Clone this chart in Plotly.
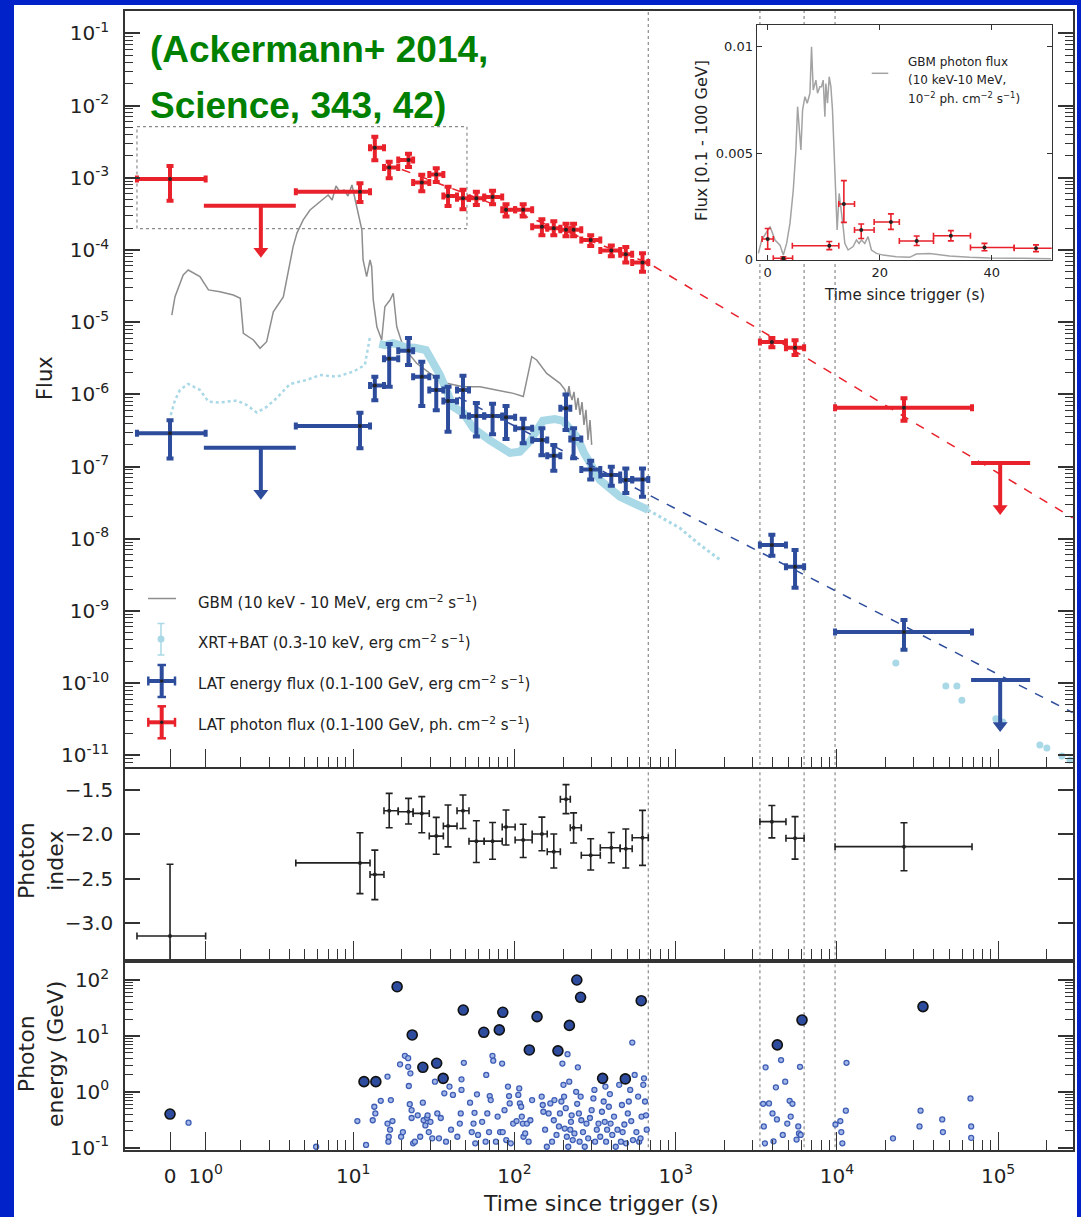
import numpy as np
import plotly.graph_objects as go

W, H = 1081, 1217
RED = '#E8212B'
BLUE = '#2D4C9C'
LBLUE = '#A9D8E6'
GREY = '#8E8E8E'
DARK = '#222222'
AX = '#333333'
BORDER = '#0022C8'
FONT = 'DejaVu Sans'

# ------------------------------------------------------------------ data
# LAT time bins (s): centre, low edge, high edge
lat_t = [0, 11.0, 13.6, 16.7, 22.0, 26.6, 32.7, 38.7, 47.9, 58.0, 73.1, 88.6, 113.2, 147.9,
         175.3, 208.7, 232.6, 297, 398.6, 490.4, 622.3, 3950, 5500, 26070]
lat_lo = [-1.0, 4.4, 12.7, 15.5, 19.0, 23.5, 29.6, 36.2, 44.0, 52.2, 64.9, 83.9, 100.9, 128.7,
          159.6, 192.5, 221.9, 259.6, 340.6, 452.6, 537, 3330, 4830, 9740]
lat_hi = [1.0, 12.7, 15.5, 19.0, 23.5, 29.6, 36.2, 44.0, 52.2, 64.9, 83.9, 100.9, 128.7, 159.6,
          192.5, 221.9, 259.6, 340.6, 452.6, 537, 676, 4830, 6260, 68900]

# LAT photon flux (ph cm-2 s-1)
ph_flux = [9.6e-4, 6.4e-4, 2.6e-3, 1.38e-3, 1.76e-3, 8.6e-4, 1.11e-3, 5.6e-4, 5.2e-4, 5.2e-4,
           5.4e-4, 3.6e-4, 3.6e-4, 2.1e-4, 2.0e-4, 1.9e-4, 1.9e-4, 1.37e-4, 9.8e-5, 8.7e-5,
           6.7e-5, 5.3e-6, 4.4e-6, 6.5e-7]
ph_hi = [1.45e-3, 8.4e-4, 3.7e-3, 1.66e-3, 2.14e-3, 1.1e-3, 1.35e-3, 7.5e-4, 6.8e-4, 6.4e-4,
         6.6e-4, 4.3e-4, 4.3e-4, 2.65e-4, 2.5e-4, 2.3e-4, 2.3e-4, 1.6e-4, 1.15e-4, 1.1e-4,
         9.0e-5, 6.0e-6, 5.6e-6, 8.8e-7]
ph_lo = [4.8e-4, 4.6e-4, 1.74e-3, 9.8e-4, 1.41e-3, 6.5e-4, 8.7e-4, 4.05e-4, 3.65e-4, 4.2e-4,
         4.3e-4, 2.9e-4, 2.9e-4, 1.6e-4, 1.6e-4, 1.55e-4, 1.55e-4, 1.13e-4, 8.2e-5, 6.7e-5,
         5.0e-5, 4.5e-6, 3.5e-6, 4.3e-7]

# LAT energy flux (erg cm-2 s-1)
en_flux = [2.88e-7, 3.64e-7, 1.32e-6, 3.1e-6, 4.0e-6, 1.75e-6, 1.15e-6, 8.1e-7, 1.15e-6, 5.0e-7,
           5.0e-7, 4.8e-7, 3.4e-7, 2.33e-7, 1.41e-7, 6.4e-7, 2.4e-7, 9.1e-8, 7.6e-8, 6.5e-8,
           6.6e-8, 8.2e-9, 4.1e-9, 5.1e-10]
en_hi = [4.37e-7, 5.56e-7, 1.75e-6, 4.98e-6, 6.0e-6, 2.83e-6, 1.75e-6, 1.27e-6, 1.8e-6, 7.6e-7,
         7.4e-7, 6.9e-7, 4.6e-7, 3.4e-7, 1.98e-7, 9.9e-7, 3.4e-7, 1.2e-7, 9.9e-8, 9.4e-8,
         9.4e-8, 1.13e-8, 7.0e-9, 7.5e-10]
en_lo = [1.29e-7, 1.79e-7, 8.3e-7, 1.27e-6, 2.55e-6, 6.9e-7, 6.0e-7, 3.03e-7, 4.9e-7, 2.6e-7,
         2.8e-7, 2.4e-7, 2.1e-7, 1.43e-7, 8.7e-8, 3.2e-7, 1.3e-7, 6.6e-8, 5.4e-8, 4.3e-8,
         3.8e-8, 5.8e-9, 2.1e-9, 2.9e-10]

# upper limits: bin low, bin high, arrow time, photon flux UL, energy flux UL
ul_lo = [0.95, 68000]
ul_hi = [4.4, 158000]
ul_t = [2.67, 103000]
ul_ph = [4.1e-4, 1.12e-7]
ul_en = [1.82e-7, 1.1e-10]

# photon index
idx = [-3.147, -2.322, -2.454, -1.734, -1.745, -1.764, -2.020, -1.907, -1.734, -2.077, -2.077,
       -1.918, -2.064, -1.996, -2.196, -1.605, -1.925, -2.236, -2.151, -2.162, -2.038, -1.857,
       -2.045, -2.139]
idx_hi = [-2.337, -1.982, -2.178, -1.538, -1.594, -1.575, -1.809, -1.669, -1.557, -1.847, -1.866,
          -1.726, -1.886, -1.806, -1.997, -1.439, -1.758, -2.05, -1.98, -1.94, -1.73, -1.675,
          -1.80, -1.87]
idx_lo = [-3.95, -2.669, -2.736, -1.926, -1.884, -1.982, -2.224, -2.141, -1.934, -2.318, -2.281,
          -2.12, -2.262, -2.186, -2.38, -1.766, -2.097, -2.402, -2.32, -2.38, -2.35, -2.04,
          -2.28, -2.41]

# power-law decay lines (dashed)
fit_ph_t = [20, 676, 2.9e5]
fit_ph_F = [1.3e-3, 6.6e-5, 1.95e-8]
fit_en_t = [45, 2.9e5]
fit_en_F = [9.1e-7, 3.9e-11]

# GBM energy flux
gbm_t = [0.05, 0.14, 0.37, 0.51, 0.84, 1.08, 1.41, 1.79, 1.99, 2.08, 2.40, 2.64, 2.90, 3.19, 3.68,
         4.23, 4.47, 4.88, 5.39, 5.87, 6.40, 6.98, 7.39, 7.81, 8.27, 8.76, 9.27, 9.81, 10.5, 11.0,
         11.3, 11.5, 12.1, 12.7, 13.0, 13.3, 14.0, 15.0, 15.7, 16.9, 17.7, 18.6, 20.4, 24.7, 29.9,
         38.0, 48.1, 61.1, 77.5, 98.3, 113.4, 119.0, 127.9, 137.3, 158.4, 191.6, 205.7, 211.7,
         217.8, 221, 227.4, 233.9, 240.7, 247.7, 254.8, 262.3, 269.8, 277.6, 285.6, 294.0, 301.2]
gbm_F = [1.25e-5, 2.25e-5, 4.49e-5, 5.27e-5, 4.26e-5, 2.79e-5, 2.64e-5, 2.37e-5, 2.14e-5, 7.0e-6,
         5.65e-6, 4.34e-6, 5.36e-6, 1.39e-5, 2.23e-5, 1.10e-4, 1.71e-4, 2.59e-4, 3.57e-4, 4.19e-4,
         4.91e-4, 5.76e-4, 4.91e-4, 7.67e-4, 6.34e-4, 6.76e-4, 5.58e-4, 7.92e-4, 3.96e-4, 2.59e-4,
         1.89e-4, 7.25e-5, 4.26e-5, 7.25e-5, 5.85e-5, 2.02e-5, 8.63e-6, 5.65e-6, 1.63e-5, 2.02e-5,
         2.51e-5, 8.63e-6, 4.56e-6, 2.69e-6, 1.95e-6, 1.42e-6, 1.27e-6, 1.27e-6, 1.15e-6, 1.03e-6,
         9.3e-7, 1.58e-6, 3.32e-6, 2.99e-6, 1.95e-6, 1.42e-6, 1.15e-6, 8.9e-7, 1.30e-6, 1.03e-6,
         8.3e-7, 1.08e-6, 6.1e-7, 8.9e-7, 5.2e-7, 7.8e-7, 3.76e-7, 6.1e-7, 2.33e-7, 4.41e-7, 1.99e-7]

# BAT (early) and XRT
bat_t = [0.02, 0.14, 0.28, 0.51, 0.84, 1.08, 1.41, 1.89, 2.18, 2.52, 2.90, 3.35, 4.05, 5.14, 6.21,
         7.89, 10.0, 11.8, 12.7]
bat_F = [5.16e-7, 8.3e-7, 1.15e-6, 1.39e-6, 1.15e-6, 7.9e-7, 7.7e-7, 8.2e-7, 7.1e-7, 5.6e-7,
         6.7e-7, 8.9e-7, 1.39e-6, 1.58e-6, 1.85e-6, 1.75e-6, 2.06e-6, 2.55e-6, 6.3e-6]
xrt_t = [14.5, 15.7, 17.7, 20.9, 24.1, 28.2, 34.5, 41.7, 48.1, 55.5, 70.5, 93.8, 108, 125, 150,
         178, 200, 244, 270, 311, 339, 452, 674, 1063, 1416, 1885]
xrt_F = [5.0e-6, 4.8e-6, 5.1e-6, 4.5e-6, 4.4e-6, 4.1e-6, 1.85e-6, 6.7e-7, 5.5e-7, 3.4e-7, 2.3e-7,
         1.54e-7, 1.6e-7, 2.25e-7, 4.3e-7, 4.55e-7, 4.3e-7, 2.56e-7, 1.54e-7, 8.9e-8, 6.5e-8,
         3.8e-8, 2.5e-8, 1.4e-8, 8.2e-9, 5.1e-9]
xrt_late_t = [23200, 47400, 55500, 59600, 96800, 107000, 181600, 200700, 248800, 279000]
xrt_late_F = [1.9e-10, 9.1e-11, 9.1e-11, 5.8e-11, 3.2e-11, 2.9e-11, 1.39e-11, 1.26e-11,
              9.8e-12, 8.6e-12]

# vertical dotted lines (s)
vline_t = [676, 3330, 6260, 9740]
# dotted box (s, flux)
box_t = [-1.0, 50.7]
box_F = [1.97e-4, 5.1e-3]

# photon energies: high-probability (large) events (t s, E GeV)
big_t = [0, 11.65, 13.8, 18.7, 23.2, 27.0, 32.9, 36.1, 48.1, 64.5, 80.5, 84.6, 123.6, 138, 186,
         219, 243.6, 257, 352, 487, 611, 4270, 6075, 34200]
big_E = [0.40, 1.52, 1.52, 75.8, 10.4, 2.74, 3.24, 1.74, 29.0, 11.6, 12.8, 26.4, 5.6, 22.1, 5.4,
         15.4, 100, 49, 1.74, 1.70, 42.6, 6.9, 19.2, 33.4]
# other events (t s, E GeV)
small_early = [(0.52, 0.28), (5.88, 0.104), (10.6, 0.30), (12.0, 0.112), (13.2, 0.31), (13.5, 0.54),
               (13.7, 0.41), (14.8, 0.69), (16.3, 1.87), (16.3, 0.27), (16.5, 0.128), (16.6, 0.157),
               (16.9, 0.21), (17.1, 0.71), (17.5, 0.30), (19.5, 3.1), (19.8, 0.157), (20.3, 0.19),
               (20.9, 4.4), (21.9, 4.0), (21.9, 2.8), (22.1, 1.27), (22.4, 0.60), (22.6, 2.14),
               (23.0, 0.47), (23.0, 0.34), (23.5, 0.12), (24.1, 0.128), (25.1, 0.38), (26.0, 0.157),
               (27.0, 0.64), (27.3, 0.31), (28.0, 0.25), (28.7, 0.34), (28.9, 0.38), (29.4, 0.19),
               (30.1, 0.29), (30.9, 0.147), (32.1, 1.52), (33.2, 0.41), (34.0, 0.147), (34.9, 0.34),
               (36.7, 0.94), (37.6, 0.128), (39.5, 1.24), (40.4, 0.21), (41.5, 0.88), (44.2, 0.157),
               (45.8, 0.27), (46.4, 0.41), (46.9, 1.67), (46.9, 1.08), (48.5, 3.3), (53.0, 0.64),
               (54.3, 0.19), (55.7, 0.27), (56.5, 0.42), (57.1, 0.12), (58.5, 0.90), (59.4, 0.169),
               (63.0, 0.29), (66.2, 0.128), (66.8, 2.0), (67.8, 0.41), (69.5, 0.19), (70.2, 0.84),
               (71.2, 0.71), (73.0, 4.4), (73.8, 3.6), (76.7, 0.128), (78.6, 0.36), (81.4, 0.19),
               (83.8, 3.2), (84.5, 0.19), (86.7, 0.47), (88.9, 0.137), (91.1, 1.24), (92.5, 0.84),
               (93.4, 0.62), (94.8, 0.12), (98.1, 0.27), (103, 0.30), (105.6, 0.88), (107, 1.15),
               (108, 0.62), (110, 0.54), (111, 0.36), (112.6, 0.27), (113.7, 0.157), (116.5, 0.18),
               (119.4, 0.27), (122.4, 0.128), (125.4, 0.31), (128.6, 0.71)]
small_mid = [(147.5, 0.82), (149.7, 0.58), (151, 0.44), (154.8, 0.21), (158.7, 0.104), (162.8, 0.41),
             (166.8, 0.62), (171, 0.128), (175.3, 0.31), (176.9, 0.71), (182.2, 0.169), (188.7, 0.24),
             (191.4, 0.41), (195.3, 0.67), (198.2, 3.2), (201.2, 1.33), (203, 0.82), (205, 0.22),
             (208, 0.51), (211.2, 0.157), (213.3, 4.7), (215.4, 0.104), (218.6, 1.52), (221.9, 0.21),
             (224, 0.29), (226.2, 0.38), (229.7, 0.137), (235.3, 0.18), (241.2, 1.0), (244.8, 0.61),
             (247.2, 2.74), (250.8, 0.41), (253.4, 0.128), (257.2, 0.82), (259.7, 0.31), (266, 0.19),
             (272.8, 0.104), (279.6, 0.27), (286.5, 0.147), (293.7, 0.34), (301, 0.47), (308.5, 0.76),
             (313.1, 1.08), (316.2, 0.128), (324, 0.21), (332, 0.27), (340.3, 0.157), (348.8, 0.44),
             (357.4, 0.67), (362.8, 0.29), (366.4, 1.24), (370, 0.128), (375.4, 0.21), (384.8, 0.54),
             (390.5, 0.91), (394.4, 0.27), (404.2, 0.169), (414.4, 0.36), (424.7, 0.104), (435.3, 0.21),
             (446.1, 1.33), (457.2, 0.128), (463.9, 0.58), (468.5, 0.19), (480.2, 0.26), (492.1, 0.12),
             (504.5, 0.41), (511.9, 0.67), (522.1, 1.08), (529.8, 0.30), (537.8, 7.6), (543.1, 0.137),
             (556.5, 2.0), (570.4, 0.19), (584.7, 0.82), (593.4, 0.128), (605.2, 0.147), (614, 0.36),
             (629.4, 1.33), (635.7, 1.74), (645.1, 0.67), (654.7, 0.38), (661.2, 0.21)]
small_late = [(3487, 0.61), (3522, 0.24), (3574, 0.12), (3610, 2.74), (3792, 0.62), (3985, 0.41),
              (4044, 0.13), (4184, 1.2), (4246, 0.32), (4504, 3.7), (4617, 0.169), (4779, 1.52),
              (4922, 0.27), (5093, 0.69), (5169, 0.36), (5298, 0.61), (5620, 0.14), (5760, 0.24),
              (5817, 0.18), (5903, 2.8), (5962, 0.169), (9797, 0.26), (10500, 0.30), (10650, 0.19),
              (10810, 0.12), (11360, 0.46), (11470, 3.3), (22280, 0.147), (32540, 0.24),
              (33030, 0.46), (45020, 0.32), (45470, 0.19), (67400, 0.76), (68070, 0.24), (68070, 0.15)]

# inset: GBM photon flux (10^-2 ph cm-2 s-1) vs time (s)
ins_t = [-1.66, -1.07, 0.42, 1.31, 2.20, 2.79, 3.38, 3.98, 4.57, 5.04, 5.34, 5.64, 5.93, 6.23, 6.65,
         7.06, 7.54, 7.83, 8.13, 8.61, 8.90, 9.32, 9.61, 9.91, 10.21, 10.39, 10.68, 10.98, 11.28,
         11.57, 11.87, 12.17, 12.40, 12.76, 13.18, 13.47, 13.77, 14.36, 15.25, 15.85, 16.32, 16.74,
         17.33, 17.92, 18.52, 19.41, 20.59, 22.97, 25.34, 26.53, 28.9, 32.46, 36.02, 39.58, 45.52,
         50.56]
ins_v = [0.00028, 0.00091, 0.00154, 0.00091, 0.00067, 0.0002, 0.00075, 0.00169, 0.00326, 0.00514,
         0.00718, 0.00624, 0.00514, 0.00702, 0.00765, 0.00734, 0.00781, 0.0100, 0.00796, 0.00843,
         0.00781, 0.00812, 0.00812, 0.00843, 0.00671, 0.00827, 0.00734, 0.00859, 0.00812, 0.00702,
         0.00467, 0.00232, 0.00138, 0.0031, 0.00232, 0.00154, 0.00075, 0.00044, 0.0006, 0.00091,
         0.00075, 0.00091, 0.00075, 0.00107, 0.00044, 0.00028, 0.0002, 0.000125, 0.000094, 0.00025,
         0.00028, 0.000157, 0.000094, 0.000063, 0.000047, 0.000031]
ins_n = 9          # number of LAT bins shown in the inset
ins_extra = dict(t=2.8, lo=1.0, hi=4.45, v=5e-5, vhi=1.2e-4, vlo=0.0)

# ------------------------------------------------------------------ helpers
def tu(t):
    """time (s) -> axis coordinate (log10 beyond 2 s, stretched linear near 0)."""
    t = np.asarray(t, dtype=float)
    lin = np.interp(t, [-1.0, 0.0, 1.0, 2.0], [-0.342, -0.137, 0.084, np.log10(2.0)])
    lg = np.log10(np.clip(t, 2.0, None))
    return np.where(t >= 2.0, lg, lin)


def X(px):
    return px / W


def Y(py):
    return 1 - py / H


U_RANGE = [1 + (125 - 353.3) / 161.2, 1 + (1073 - 353.3) / 161.2]
XDOM = [X(125), X(1073)]
TOP_DOM = [Y(766.7), Y(11)]
MID_DOM = [Y(959), Y(769.3)]
BOT_DOM = [Y(1150), Y(962.7)]
TOP_RANGE = [-11.158, -0.691]
MID_RANGE = [-3.406, -1.2666]
BOT_RANGE = [-1.041, 2.309]
INSET_XDOM = [X(756.7), X(1051.7)]
INSET_YDOM = [Y(260), Y(25)]
U_INSET_L = 1 + (756.7 - 353.3) / 161.2

fig = go.Figure()
A = np.asarray

def sc(**kw):
    kw.setdefault('showlegend', False)
    kw.setdefault('hoverinfo', 'skip')
    fig.add_trace(go.Scatter(**kw))

# ------------------------------------------------------------------ vertical dotted lines
def vlines(xa, ya, lo, hi, gap=None):
    xs, ys = [], []
    for vt in vline_t:
        u = float(tu(vt))
        if gap is not None and u > U_INSET_L:
            segs = [(lo, gap[0]), (gap[1], hi)]
        else:
            segs = [(lo, hi)]
        for a, b in segs:
            xs += [u, u, None]
            ys += [a, b, None]
    sc(x=xs, y=ys, xaxis=xa, yaxis=ya, mode='lines',
       line=dict(color='#8a8a8a', width=1.2, dash='dot'))

vlines('x', 'y', 10 ** -11.3, 10 ** -0.6, gap=(10 ** -4.17, 10 ** -0.885))
vlines('x2', 'y2', -3.5, -1.2)
vlines('x3', 'y3', 10 ** -1.1, 10 ** 2.4)

# dotted box
bx = tu([box_t[0], box_t[1], box_t[1], box_t[0], box_t[0]])
by = [box_F[1], box_F[1], box_F[0], box_F[0], box_F[1]]
sc(x=bx, y=by, xaxis='x', yaxis='y', mode='lines', line=dict(color='#8a8a8a', width=1.2, dash='dot'))

# GBM
sc(x=tu(gbm_t), y=gbm_F, xaxis='x', yaxis='y', mode='lines', line=dict(color=GREY, width=1.5))

# BAT + XRT
sc(x=tu(bat_t), y=bat_F, xaxis='x', yaxis='y', mode='lines',
   line=dict(color=LBLUE, width=2.5, dash='dot'))
xt = A(xrt_t); xf = A(xrt_F)
m1 = xt <= 674
sc(x=tu(xt[m1]), y=xf[m1], xaxis='x', yaxis='y', mode='lines', line=dict(color=LBLUE, width=8))
m2 = xt >= 674
sc(x=tu(xt[m2]), y=xf[m2], xaxis='x', yaxis='y', mode='lines',
   line=dict(color=LBLUE, width=3, dash='dot'))
sc(x=tu(xrt_late_t), y=xrt_late_F, xaxis='x', yaxis='y', mode='markers',
   marker=dict(color=LBLUE, size=7))

# dashed decay lines
sc(x=tu(fit_ph_t), y=fit_ph_F, xaxis='x', yaxis='y', mode='lines', line=dict(color=RED, width=1.5, dash='dash'))
sc(x=tu(fit_en_t), y=fit_en_F, xaxis='x', yaxis='y', mode='lines', line=dict(color=BLUE, width=1.5, dash='dash'))

ut = tu(lat_t); ulo = tu(lat_lo); uhi = tu(lat_hi)

def lat_points(F, Fhi, Flo, color):
    F = A(F); Fhi = A(Fhi); Flo = A(Flo)
    sc(x=ut, y=F, xaxis='x', yaxis='y', mode='markers',
       marker=dict(size=4, color=DARK),
       error_x=dict(type='data', symmetric=False, array=uhi - ut, arrayminus=ut - ulo,
                    color=color, thickness=4, width=3.5),
       error_y=dict(type='data', symmetric=False, array=Fhi - F, arrayminus=F - Flo,
                    color=color, thickness=4, width=3.5))

def upper_limits(vals, color):
    xs, ys, tx, ty = [], [], [], []
    for lo, hi, ta, v in zip(ul_lo, ul_hi, ul_t, vals):
        xs += [float(tu(lo)), float(tu(hi)), None]
        ys += [v, v, None]
        ua = float(tu(ta))
        xs += [ua, ua, None]
        ys += [v, v * 10 ** -0.6, None]
        tx.append(ua); ty.append(v * 10 ** -0.63)
    sc(x=xs, y=ys, xaxis='x', yaxis='y', mode='lines', line=dict(color=color, width=4))
    sc(x=tx, y=ty, xaxis='x', yaxis='y', mode='markers',
       marker=dict(symbol='triangle-down', size=13, color=color))

lat_points(en_flux, en_hi, en_lo, BLUE)
upper_limits(ul_en, BLUE)
lat_points(ph_flux, ph_hi, ph_lo, RED)
upper_limits(ul_ph, RED)

# ------------------------------------------------------------------ photon index
ix = A(idx)
sc(x=ut, y=ix, xaxis='x2', yaxis='y2', mode='markers', marker=dict(size=4, color=DARK),
   error_x=dict(type='data', symmetric=False, array=uhi - ut, arrayminus=ut - ulo,
                color=DARK, thickness=1.6, width=3.5),
   error_y=dict(type='data', symmetric=False, array=A(idx_hi) - ix, arrayminus=ix - A(idx_lo),
                color=DARK, thickness=1.6, width=3.5))

# ------------------------------------------------------------------ photon energies
small = small_early + small_mid + small_late
sc(x=tu([p[0] for p in small]), y=[p[1] for p in small], xaxis='x3', yaxis='y3', mode='markers',
   marker=dict(size=5, color='#A3B6E8', line=dict(color='#3D5DB5', width=1.3)))
sc(x=tu(big_t), y=big_E, xaxis='x3', yaxis='y3', mode='markers',
   marker=dict(size=10, color='#2E4C9E', line=dict(color='#111111', width=1.6)))

# ------------------------------------------------------------------ inset
sc(x=ins_t, y=ins_v, xaxis='x4', yaxis='y4', mode='lines', line=dict(color='#A3A3A3', width=1.5))
it = A(lat_t[:ins_n]); iv = A(ph_flux[:ins_n])
sc(x=it, y=iv, xaxis='x4', yaxis='y4', mode='markers', marker=dict(size=4, color=DARK),
   error_x=dict(type='data', symmetric=False, array=A(lat_hi[:ins_n]) - it,
                arrayminus=it - A(lat_lo[:ins_n]), color=RED, thickness=1.6, width=3),
   error_y=dict(type='data', symmetric=False, array=A(ph_hi[:ins_n]) - iv,
                arrayminus=iv - A(ph_lo[:ins_n]), color=RED, thickness=1.6, width=3))
e = ins_extra
sc(x=[e['t']], y=[e['v']], xaxis='x4', yaxis='y4', mode='markers', marker=dict(size=4, color=DARK),
   error_x=dict(type='data', symmetric=False, array=[e['hi'] - e['t']], arrayminus=[e['t'] - e['lo']],
                color=RED, thickness=1.6, width=3),
   error_y=dict(type='data', symmetric=False, array=[e['vhi'] - e['v']], arrayminus=[e['v'] - e['vlo']],
                color=RED, thickness=1.6, width=3))

# ------------------------------------------------------------------ axes
x_major = [float(tu(0)), float(tu(1)), 1, 2, 3, 4, 5]
x_text = ['0', '10<sup>0</sup>', '10<sup>1</sup>', '10<sup>2</sup>', '10<sup>3</sup>',
          '10<sup>4</sup>', '10<sup>5</sup>']
x_minor = [np.log10(k * 10.0 ** n) for n in range(0, 6) for k in range(2, 10)
           if np.log10(k * 10.0 ** n) < U_RANGE[1]]

tickfont = dict(family=FONT, size=20, color=DARK)

def xcfg(anchor, labels):
    return dict(domain=XDOM, range=U_RANGE, anchor=anchor, showgrid=False, zeroline=False,
                automargin=False,
                showline=True, linecolor=AX, linewidth=1.5, mirror=True,
                ticks='inside', ticklen=18, tickwidth=1.3, tickcolor=AX,
                tickmode='array', tickvals=x_major, ticktext=x_text,
                showticklabels=labels, tickfont=tickfont, ticklabelstandoff=7,
                minor=dict(tickmode='array', tickvals=x_minor, ticks='inside', ticklen=10,
                           tickwidth=1.2, tickcolor=AX))

def logycfg(domain, rng, anchor, decades):
    vals = [10.0 ** d for d in decades]
    txt = ['10<sup>%d</sup>' % d for d in decades]
    minor = [k * 10.0 ** d for d in range(min(decades) - 1, max(decades) + 1) for k in range(2, 10)
             if rng[0] < np.log10(k * 10.0 ** d) < rng[1]]
    return dict(domain=domain, type='log', range=rng, anchor=anchor, showgrid=False, zeroline=False,
                automargin=False,
                showline=True, linecolor=AX, linewidth=1.5, mirror='ticks',
                ticks='inside', ticklen=15, tickwidth=1.5, tickcolor=AX,
                tickmode='array', tickvals=vals, ticktext=txt, tickfont=tickfont,
                ticklabelstandoff=10,
                minor=dict(tickmode='array', tickvals=minor, ticks='inside', ticklen=8,
                           tickwidth=1.2, tickcolor=AX))

layout = dict(
    width=W, height=H, autosize=False, margin=dict(l=0, r=0, t=0, b=0, pad=0, autoexpand=False),
    paper_bgcolor='white', plot_bgcolor='white', showlegend=False,
    xaxis=xcfg('y', False),
    yaxis=logycfg(TOP_DOM, TOP_RANGE, 'x', list(range(-11, 0))),
    xaxis2=xcfg('y2', False),
    yaxis2=dict(domain=MID_DOM, range=MID_RANGE, anchor='x2', showgrid=False, zeroline=False,
                automargin=False,
                showline=True, linecolor=AX, linewidth=1.5, mirror='ticks',
                ticks='inside', ticklen=15, tickwidth=1.5, tickcolor=AX,
                tickmode='array', tickvals=[-3.0, -2.5, -2.0, -1.5],
                ticktext=['\u22123.0', '\u22122.5', '\u22122.0', '\u22121.5'],
                tickfont=tickfont, ticklabelstandoff=6),
    xaxis3=xcfg('y3', True),
    yaxis3=logycfg(BOT_DOM, BOT_RANGE, 'x3', [-1, 0, 1, 2]),
    xaxis4=dict(domain=INSET_XDOM, range=[-1.96, 50.7], anchor='y4', showgrid=False, zeroline=False,
                automargin=False,
                showline=True, linecolor=AX, linewidth=1.2, mirror='ticks', ticks='inside',
                ticklen=5, tickwidth=1.2, tickcolor=AX, tickmode='array', tickvals=[0, 20, 40],
                tickfont=dict(family=FONT, size=13, color=DARK)),
    yaxis4=dict(domain=INSET_YDOM, range=[-0.00003, 0.01102], anchor='x4', showgrid=False,
                automargin=False,
                zeroline=False, showline=True, linecolor=AX, linewidth=1.2, mirror='ticks',
                ticks='inside', ticklen=5, tickwidth=1.2, tickcolor=AX, tickmode='array',
                tickvals=[0, 0.005, 0.01], ticktext=['0', '0.005', '0.01'],
                tickfont=dict(family=FONT, size=13, color=DARK)),
)

# ------------------------------------------------------------------ shapes
shapes = []
# blue slide frame (left, top, right)
for x0, y0, x1, y1 in [(0, 0, 14, H), (0, 0, W, 5), (1077, 0, W, H)]:
    shapes.append(dict(type='rect', xref='paper', yref='paper', x0=X(x0), x1=X(x1), y0=Y(y1),
                       y1=Y(y0), fillcolor=BORDER, line=dict(width=0), layer='above'))

def pl(x0, y0, x1, y1, color, width):
    shapes.append(dict(type='line', xref='paper', yref='paper', x0=X(x0), y0=Y(y0), x1=X(x1),
                       y1=Y(y1), line=dict(color=color, width=width)))

def pc(cx, cy, r, color):
    shapes.append(dict(type='circle', xref='paper', yref='paper', x0=X(cx - r), x1=X(cx + r),
                       y0=Y(cy + r), y1=Y(cy - r), fillcolor=color, line=dict(width=0)))

# legend glyphs
pl(148, 598.5, 176, 598.5, GREY, 1.5)
pl(161, 623.5, 161, 655, LBLUE, 1.5)
pl(157.5, 623.5, 164.5, 623.5, LBLUE, 1.5)
pl(157.5, 655, 164.5, 655, LBLUE, 1.5)
pc(161, 639, 3.5, LBLUE)
for cy, col in [(681, BLUE), (722.3, RED)]:
    pl(148.3, cy, 175, cy, col, 4)
    pl(161.7, cy - 16, 161.7, cy + 16, col, 4)
    pl(157.5, cy - 16, 166, cy - 16, col, 2.5)
    pl(157.5, cy + 16, 166, cy + 16, col, 2.5)
    pl(148.3, cy - 4.5, 148.3, cy + 4.5, col, 2.5)
    pl(175, cy - 4.5, 175, cy + 4.5, col, 2.5)
    pc(161.7, cy, 1.8, DARK)
# inset legend line
pl(871.7, 73.3, 888.3, 73.3, '#A3A3A3', 1.5)
layout['shapes'] = shapes

# ------------------------------------------------------------------ annotations
ann = []

def txt(x, y, s, size, color=DARK, xanchor='left', angle=0, family=FONT):
    ann.append(dict(xref='paper', yref='paper', x=X(x), y=Y(y), text=s, showarrow=False,
                    xanchor=xanchor, yanchor='middle', textangle=angle,
                    font=dict(family=family, size=size, color=color)))

txt(148, 49, '<b>(Ackermann+ 2014,</b>', 37, color='#008000', family='Liberation Sans')
txt(148, 106, '<b>Science, 343, 42)</b>', 37, color='#008000', family='Liberation Sans')

txt(196, 602, 'GBM (10 keV - 10 MeV, erg cm<sup>\u22122</sup> s<sup>\u22121</sup>)', 15)
txt(196, 642, 'XRT+BAT (0.3-10 keV, erg cm<sup>\u22122</sup> s<sup>\u22121</sup>)', 15)
txt(196, 683, 'LAT energy flux (0.1-100 GeV, erg cm<sup>\u22122</sup> s<sup>\u22121</sup>)', 15)
txt(196, 724, 'LAT photon flux (0.1-100 GeV, ph. cm<sup>\u22122</sup> s<sup>\u22121</sup>)', 15)

txt(45, 378, 'Flux', 21, xanchor='center', angle=-90)
txt(41, 861, 'Photon<br>index', 22, xanchor='center', angle=-90)
txt(41, 1054, 'Photon<br>energy (GeV)', 22, xanchor='center', angle=-90)
txt(601, 1203, 'Time since trigger (s)', 22, xanchor='center')

# inset texts
txt(702, 141, 'Flux [0.1 - 100 GeV]', 16, xanchor='center', angle=-90)
txt(904, 295, 'Time since trigger (s)', 15, xanchor='center')
txt(906, 62, 'GBM photon flux', 12)
txt(906, 80, '(10 keV-10 MeV,', 12)
txt(906, 98, '10<sup>\u22122</sup> ph. cm<sup>\u22122</sup> s<sup>\u22121</sup>)', 12)

layout['annotations'] = ann
fig.update_layout(**layout)

fig.write_html('out.html', config={'displayModeBar': False})
